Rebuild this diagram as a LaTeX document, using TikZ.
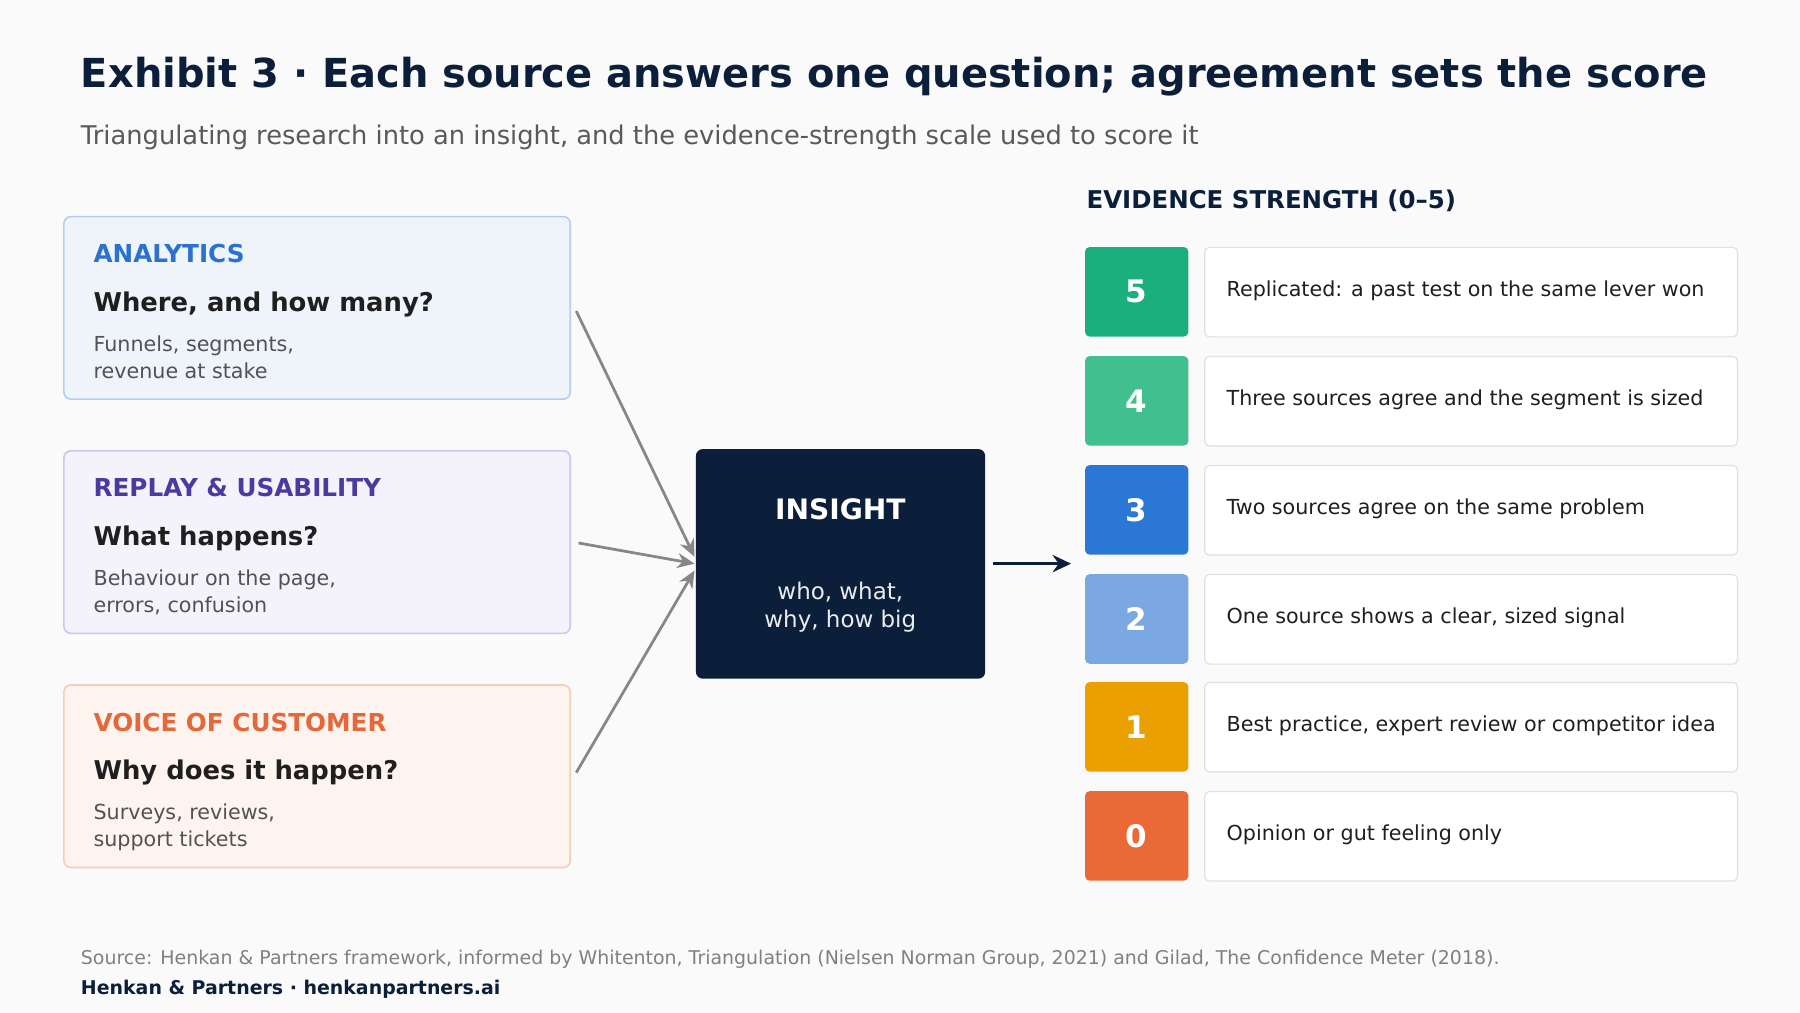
\documentclass[tikz,border=0pt]{standalone}
\usepackage{fontspec}
\setmainfont{DejaVu Sans}
\usetikzlibrary{arrows.meta}
\definecolor{navy}{HTML}{0B1F3A}
\definecolor{bg}{HTML}{FAFAFA}
\begin{document}
\begin{tikzpicture}[x=1pt,y=-1pt,
 src/.style={draw=#1!45!white, fill=#1!10!white, rounded corners=6pt, line width=1.4pt, minimum width=441pt, minimum height=159pt, anchor=north west},
 head/.style={anchor=west, font=\bfseries\fontsize{21.5}{26}\selectfont, text=#1},
 q/.style={anchor=west, font=\bfseries\fontsize{22.5}{27}\selectfont, text=black!88},
 desc/.style={anchor=north west, align=left, font=\fontsize{18}{23.5}\selectfont, text=black!68},
 sq/.style={fill=#1, rounded corners=4pt, minimum width=90pt, minimum height=78pt, anchor=north west, text=white, font=\bfseries\fontsize{27}{30}\selectfont},
 row/.style={draw=black!12, fill=white, rounded corners=4pt, line width=1pt, minimum width=464pt, minimum height=78pt, anchor=north west},
 rowt/.style={anchor=west, font=\fontsize{18}{21}\selectfont, text=black!88},
 garr/.style={draw=black!47, line width=2.4pt, -{Stealth[length=15pt,width=13pt]}}]
\fill[bg] (0,0) rectangle (1568,882);
\useasboundingbox (0,0) rectangle (1568,882);
\node[anchor=west, font=\bfseries\fontsize{34.8}{40}\selectfont, text=navy] (title) at (67,67) {Exhibit 3 · Each source answers one question; agreement sets the score};
\node[anchor=west, font=\fontsize{22.4}{26}\selectfont, text=black!65] (sub) at (67,120) {Triangulating research into an insight, and the evidence-strength scale used to score it};
% sources
\definecolor{cA}{HTML}{5B8FDC}\definecolor{cB}{HTML}{8F80D8}\definecolor{cC}{HTML}{EE8E66}
\definecolor{tA}{HTML}{2B72D0}\definecolor{tB}{HTML}{4B3AA0}\definecolor{tC}{HTML}{E4683A}
\node[src=cA] (A) at (55,188) {};
\node[src=cB] (B) at (55,392) {};
\node[src=cC] (C) at (55,596) {};
\node[head=tA] (Ah) at (78,221) {ANALYTICS};
\node[q] (Aq) at (78,265) {Where, and how many?};
\node[desc] (Ad) at (78,289) {Funnels, segments,\\revenue at stake};
\node[head=tB] (Bh) at (78,425) {REPLAY \& USABILITY};
\node[q] (Bq) at (78,469) {What happens?};
\node[desc] (Bd) at (78,493) {Behaviour on the page,\\errors, confusion};
\node[head=tC] (Ch) at (78,629) {VOICE OF CUSTOMER};
\node[q] (Cq) at (78,673) {Why does it happen?};
\node[desc] (Cd) at (78,697) {Surveys, reviews,\\support tickets};
% insight
\node[fill=navy, rounded corners=6pt, minimum width=252pt, minimum height=200pt, anchor=north west] (I) at (606,391) {};
\node[font=\bfseries\fontsize{24.5}{28}\selectfont, text=white] (It) at (732,444) {INSIGHT};
\node[align=center, font=\fontsize{20}{25}\selectfont, text=black!8!white] (Is) at (732,529) {who, what,\\why, how big};
\coordinate (a1) at (502,271); \coordinate (a2) at (504,473); \coordinate (a3) at (502,673);
\coordinate (e1) at (605,485); \coordinate (e2) at (605,491); \coordinate (e3) at (605,497);
\draw[garr] (a1) -- (e1);
\draw[garr] (a2) -- (e2);
\draw[garr] (a3) -- (e3);
\coordinate (o1) at (865,491); \coordinate (o2) at (933,491);
\draw[draw=navy, line width=3pt, -{Stealth[length=16pt,width=15pt]}] (o1) -- (o2);
% scale
\node[anchor=west, font=\bfseries\fontsize{21.3}{24}\selectfont, text=navy] (Eh) at (943,175) {EVIDENCE STRENGTH (0–5)};
\definecolor{s5}{HTML}{1BAF7E}\definecolor{s4}{HTML}{40C08F}\definecolor{s3}{HTML}{2A77D5}
\definecolor{s2}{HTML}{7BA7E3}\definecolor{s1}{HTML}{EAA000}\definecolor{s0}{HTML}{E96A36}
\foreach \n/\y/\t in {5/215/{Replicated: a past test on the same lever won},
 4/310/{Three sources agree and the segment is sized},
 3/405/{Two sources agree on the same problem},
 2/500/{One source shows a clear, sized signal},
 1/594/{Best practice, expert review or competitor idea},
 0/689/{Opinion or gut feeling only}}{
 \node[sq=s\n] (sq\n) at (945,\y) {\n};
 \node[row] (r\n) at (1049,\y) {};
 \node[rowt] (rt\n) at (1065,\y+38) {\t};
}
\node[anchor=west, font=\fontsize{16.5}{19}\selectfont, text=black!50] (src) at (67,836) {Source: Henkan \& Partners framework, informed by Whitenton, Triangulation (Nielsen Norman Group, 2021) and Gilad, The Confidence Meter (2018).};
\node[anchor=west, font=\bfseries\fontsize{16.5}{19}\selectfont, text=navy] (brand) at (67,862) {Henkan \& Partners · henkanpartners.ai};
\end{tikzpicture}
\end{document}
